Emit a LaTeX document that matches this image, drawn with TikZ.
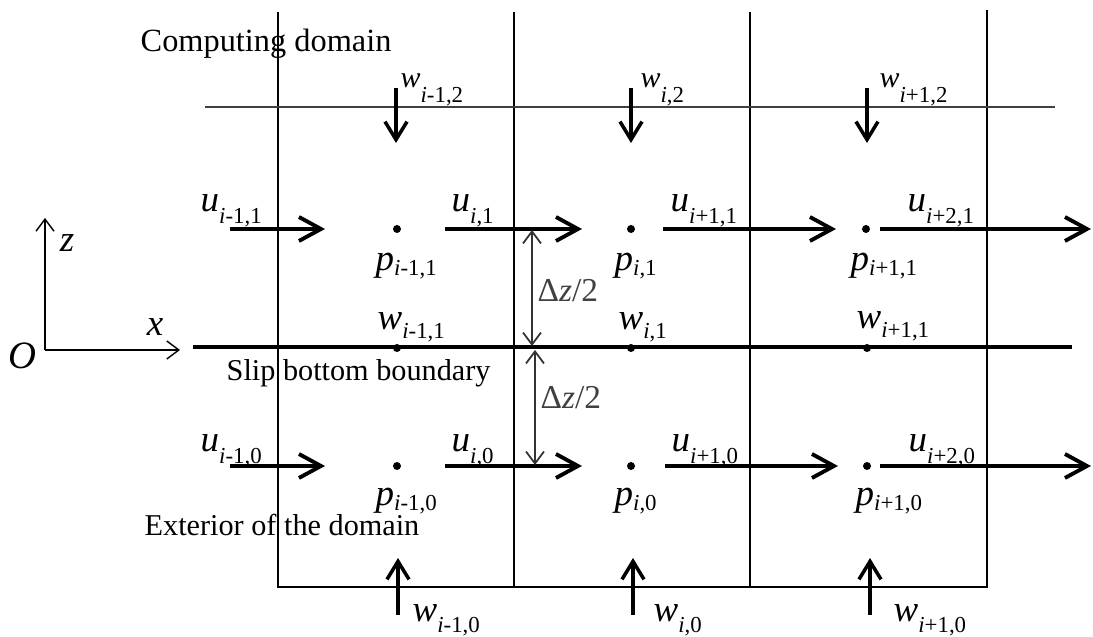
\documentclass[tikz,border=0pt]{standalone}
\usepackage{fontspec}
\setmainfont{Liberation Serif}
\usetikzlibrary{arrows.meta}

% staggered-grid labels: letter with a lowered subscript
\newcommand{\lb}[3][3pt]{{\fontsize{10.5}{12}\selectfont\itshape #2}\raisebox{-#1}{\fontsize{6.5}{8}\selectfont\itshape i\upshape #3}}
\newcommand{\lbs}[2]{{\fontsize{8.5}{10}\selectfont\itshape #1}\raisebox{-4pt}{\fontsize{6.5}{8}\selectfont\itshape i\upshape #2}}

\begin{document}
\begin{tikzpicture}[x=0.01cm,y=-0.01cm,
    cell/.style={line width=0.6pt},
    lid/.style={line width=0.45pt,black!75},
    slip/.style={line width=1.4pt},
    uflow/.style={line width=1.1pt,-{Straight Barb[length=2.2mm,width=2.4mm]}},
    wflow/.style={line width=1pt,-{Straight Barb[length=1.8mm,width=2.2mm]}},
    axis/.style={line width=0.4pt,-{Straight Barb[length=1.2mm,width=1.8mm]}},
    half/.style={line width=0.5pt,black!80,
                 {Straight Barb[length=1.2mm,width=1.8mm]}-{Straight Barb[length=1.2mm,width=1.8mm]}},
    pdot/.style={circle,fill,inner sep=0pt,minimum size=0.8mm},
    lbl/.style={inner sep=0pt,anchor=base west},
    txt/.style={inner sep=0pt,anchor=base west,font=\fontsize{8.6}{10}\selectfont}]
    \useasboundingbox (0,0) rectangle (1093,637);

    % cells
    \draw[cell] (278,12)--(278,587)--(987,587)--(987,10);
    \draw[cell] (514,12)--(514,587);
    \draw[cell] (750,12)--(750,587);
    \draw[lid] (205,107)--(1055,107);
    \draw[slip] (193,347)--(1072,347);

    % axes
    \coordinate (orig) at (45,350);
    \draw[axis] (orig)--(45,218);
    \draw[axis] (orig)--(180,350);
    \node[inner sep=0pt,font=\fontsize{11}{12}\selectfont\itshape] (ox) at (22,356) {O};
    \node[inner sep=0pt,font=\fontsize{10.5}{12}\selectfont\itshape] (zl) at (67,243) {z};
    \node[inner sep=0pt,font=\fontsize{10.5}{12}\selectfont\itshape] (xl) at (155,327) {x};

    % pressure points and slip-boundary points
    \node[pdot] (dA1) at (397,229) {};
    \node[pdot] (dB1) at (631,229) {};
    \node[pdot] (dC1) at (866,229) {};
    \node[pdot] (dA0) at (397,466) {};
    \node[pdot] (dB0) at (631,466) {};
    \node[pdot] (dC0) at (867,466) {};
    \node[pdot] (sA) at (397,348) {};
    \node[pdot] (sB) at (631,348) {};
    \node[pdot] (sC) at (867,348) {};

    % horizontal velocities
    \draw[uflow] (230,229)--(325,229);
    \draw[uflow] (445,229)--(582,229);
    \draw[uflow] (663,229)--(836,229);
    \draw[uflow] (880,229)--(1091,229);
    \draw[uflow] (230,466)--(325,466);
    \draw[uflow] (445,466)--(582,466);
    \draw[uflow] (665,466)--(838,466);
    \draw[uflow] (880,466)--(1091,466);

    % vertical velocities
    \draw[wflow] (396,88)--(396,143);
    \draw[wflow] (631,88)--(631,143);
    \draw[wflow] (867,88)--(867,143);
    \draw[wflow] (398,615)--(398,558);
    \draw[wflow] (633,615)--(633,558);
    \draw[wflow] (870,615)--(870,558);

    % half spacings
    \draw[half] (532,230)--(532,346);
    \draw[half] (535,350)--(535,465);
    \node[lbl,font=\fontsize{9.5}{11}\selectfont,black!75] (dzu) at (537,302) {Δ\textit{z}/2};
    \node[lbl,font=\fontsize{9.5}{11}\selectfont,black!75] (dzl) at (540,409) {Δ\textit{z}/2};

    % u labels
    \node[lbl] (uA1) at (200,212) {\lb[3.4pt]{u}{-1,1}};
    \node[lbl] (uB1) at (451,212) {\lb[3.4pt]{u}{,1}};
    \node[lbl] (uC1) at (670,212) {\lb[3.4pt]{u}{+1,1}};
    \node[lbl] (uD1) at (907,212) {\lb[3.4pt]{u}{+2,1}};
    \node[lbl] (uA0) at (200,452) {\lb[3.4pt]{u}{-1,0}};
    \node[lbl] (uB0) at (451,452) {\lb[3.4pt]{u}{,0}};
    \node[lbl] (uC0) at (671,452) {\lb[3.4pt]{u}{+1,0}};
    \node[lbl] (uD0) at (908,452) {\lb[3.4pt]{u}{+2,0}};

    % p labels
    \node[lbl] (pA1) at (375,271) {\lb[1.3pt]{p}{-1,1}};
    \node[lbl] (pB1) at (614,271) {\lb[1.3pt]{p}{,1}};
    \node[lbl] (pC1) at (850,271) {\lb[1.3pt]{p}{+1,1}};
    \node[lbl] (pA0) at (375,506) {\lb[1.3pt]{p}{-1,0}};
    \node[lbl] (pB0) at (614,506) {\lb[1.3pt]{p}{,0}};
    \node[lbl] (pC0) at (855,506) {\lb[1.3pt]{p}{+1,0}};

    % w labels
    \node[lbl] (wA2) at (400,88) {\lbs{w}{-1,2}};
    \node[lbl] (wB2) at (640,88) {\lbs{w}{,2}};
    \node[lbl] (wC2) at (879,88) {\lbs{w}{+1,2}};
    \node[lbl] (wA1) at (377,330) {\lb[2.4pt]{w}{-1,1}};
    \node[lbl] (wB1) at (618,330) {\lb[2.4pt]{w}{,1}};
    \node[lbl] (wC1) at (856,329) {\lb[2.4pt]{w}{+1,1}};
    \node[lbl] (wA0) at (412,622) {\lb{w}{-1,0}};
    \node[lbl] (wB0) at (653,622) {\lb{w}{,0}};
    \node[lbl] (wC0) at (893,622) {\lb{w}{+1,0}};

    % region names
    \node[txt,font=\fontsize{9.2}{11}\selectfont] (comp) at (140,52) {Computing domain};
    \node[txt] (slipb) at (226,381) {Slip bottom boundary};
    \node[txt] (ext) at (144,536) {Exterior of the domain};
\end{tikzpicture}
\end{document}
